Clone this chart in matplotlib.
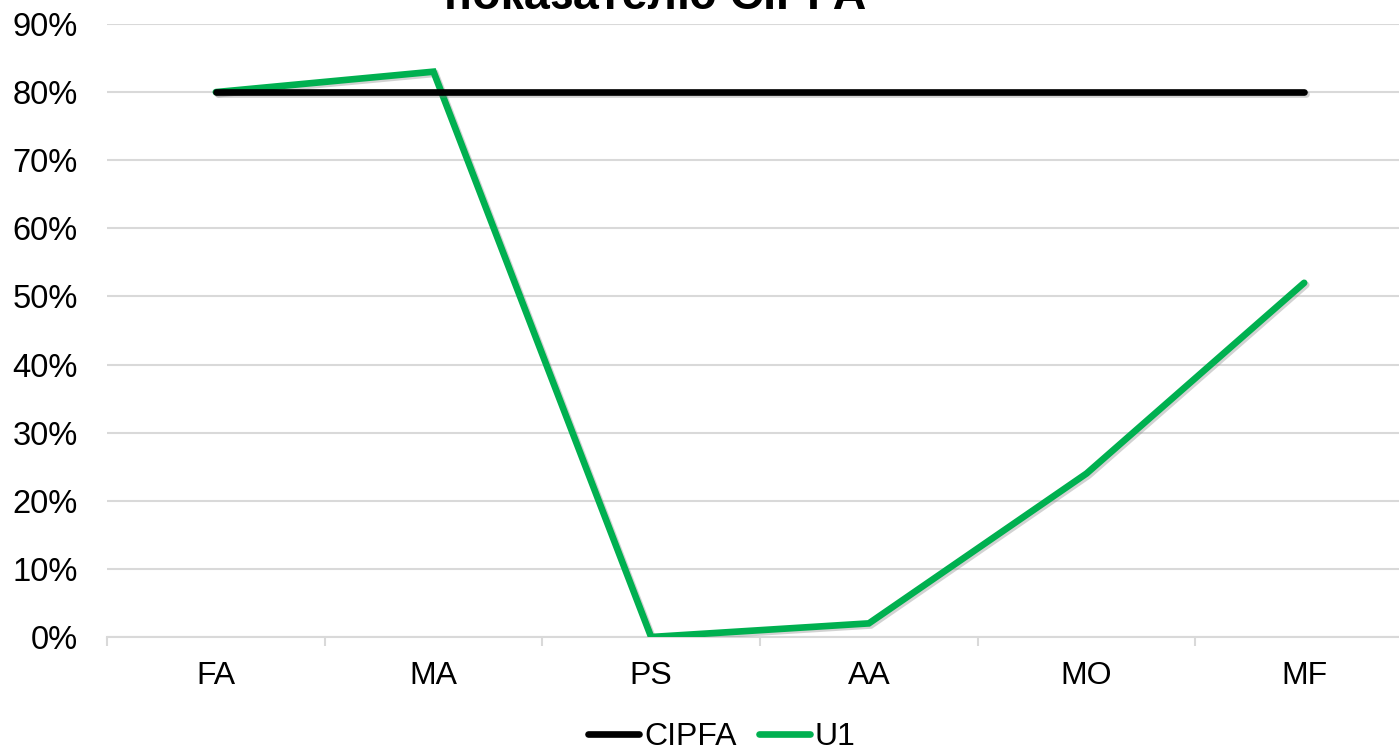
import matplotlib
matplotlib.use("Agg")
import matplotlib.pyplot as plt
import matplotlib.patheffects as pe
from matplotlib.ticker import FixedLocator, FuncFormatter
import numpy as np

categories = ["FA", "MA", "PS", "AA", "MO", "MF"]
cipfa = [0.80, 0.80, 0.80, 0.80, 0.80, 0.80]
u1 = [0.80, 0.83, 0.00, 0.02, 0.24, 0.52]
yticks = [0.0, 0.1, 0.2, 0.3, 0.4, 0.5, 0.6, 0.7, 0.8, 0.9]
title = "показателю CIPFA"

plt.rcParams['font.family'] = ['Liberation Sans', 'DejaVu Sans']

W, H = 1399, 748
fig = plt.figure(figsize=(W / 100, H / 100), dpi=100)
left, right = 107 / W, 1413 / W
bottom, top = 1 - 637 / H, 1 - 24 / H
ax = fig.add_axes([left, bottom, right - left, top - bottom])

x = np.arange(len(categories))
shadow = [pe.SimpleLineShadow(offset=(1.5, -1.5), shadow_color='gray', alpha=0.35), pe.Normal()]
ax.plot(x, u1, color='#00B050', lw=4.8, solid_capstyle='round', solid_joinstyle='miter',
        label='U1', zorder=3, path_effects=shadow)
ax.plot(x, cipfa, color='black', lw=4.8, solid_capstyle='round',
        label='CIPFA', zorder=4, path_effects=shadow)

ax.set_xlim(-0.5, len(categories) - 0.5)
ax.set_ylim(0, 0.9)
ax.set_yticks(yticks)
ax.yaxis.set_major_formatter(FuncFormatter(lambda v, p: f"{v*100:.0f}%"))
ax.grid(axis='y', color='#d9d9d9', lw=1.5, zorder=0)
ax.set_axisbelow(True)
for s in ['top', 'right', 'left']:
    ax.spines[s].set_visible(False)
ax.spines['bottom'].set_color('#d9d9d9')
ax.spines['bottom'].set_linewidth(1.5)

ax.set_xticks(x)
ax.set_xticklabels(categories)
ax.xaxis.set_minor_locator(FixedLocator(np.arange(-0.5, len(categories), 1.0)))
ax.tick_params(axis='x', which='major', length=0, pad=17, labelsize=23)
ax.tick_params(axis='x', which='minor', length=6.5, width=1.5, color='#d9d9d9', direction='out')
ax.tick_params(axis='y', length=0, pad=21, labelsize=23.5)

handles, labels = ax.get_legend_handles_labels()
order = [1, 0]
leg = fig.legend([handles[i] for i in order], [labels[i] for i in order],
                 loc='center', bbox_to_anchor=(722 / W, 1 - 737 / H), ncol=2,
                 frameon=False, fontsize=23, handlelength=1.6, handletextpad=0.15,
                 columnspacing=0.7, borderaxespad=0, borderpad=0)
for l in leg.get_lines():
    l.set_path_effects([])
    l.set_solid_capstyle('round')

fig.text(655 / W, 1 - 9 / H, title, ha='center', va='baseline', fontsize=33.5,
         fontweight='bold')

fig.savefig("out.png", dpi=100)
